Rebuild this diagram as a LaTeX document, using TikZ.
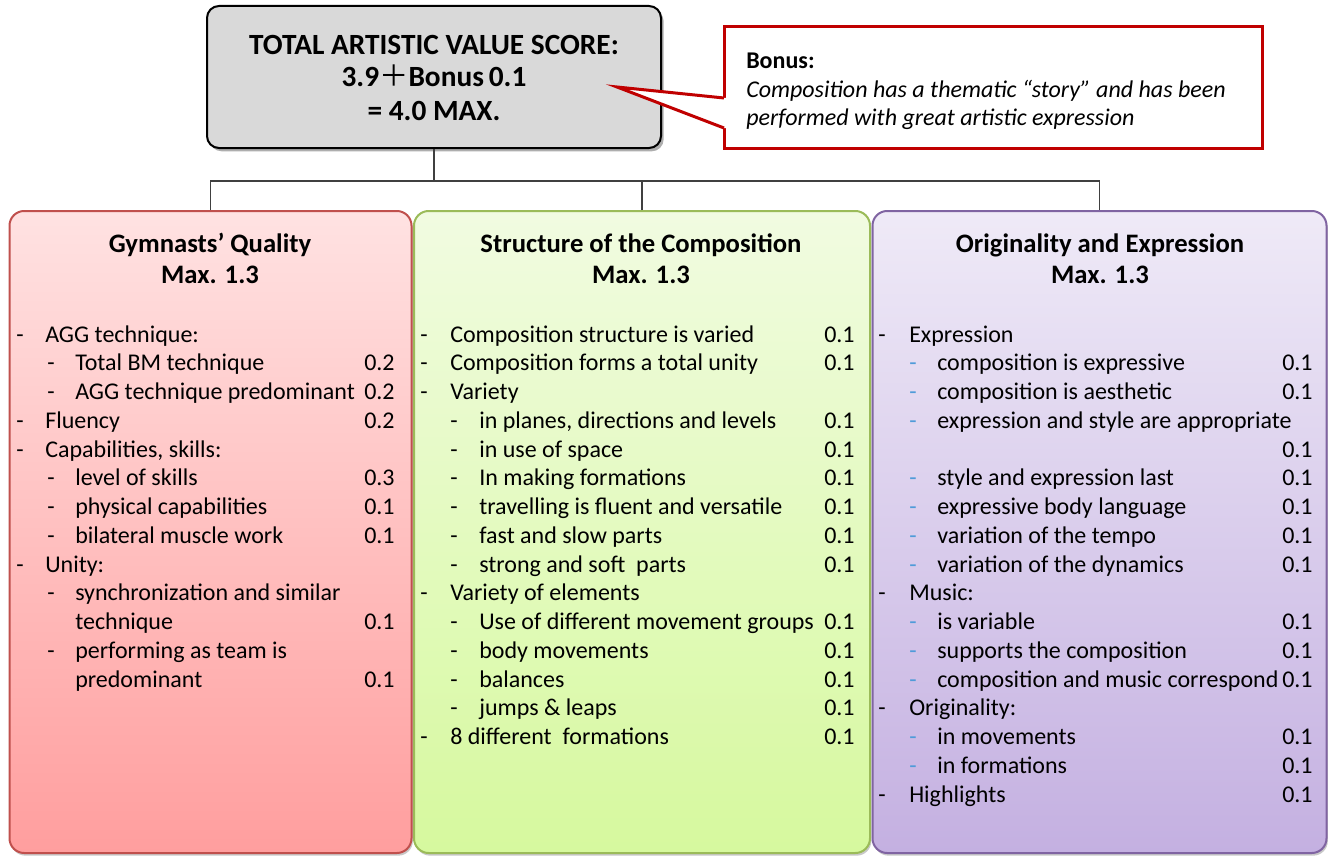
\documentclass[tikz,border=0pt]{standalone}
\usepackage{fontspec}
\setmainfont{Carlito}
\newfontfamily\cjkfont{Noto Sans CJK SC}
\usetikzlibrary{shadows}
\definecolor{redb}{HTML}{C0504D}
\definecolor{redtop}{HTML}{FFE2E2}
\definecolor{redbot}{HTML}{FF9E9E}
\definecolor{grnb}{HTML}{9BBB59}
\definecolor{grntop}{HTML}{F1FBE1}
\definecolor{grnbot}{HTML}{D6F99E}
\definecolor{purb}{HTML}{8064A2}
\definecolor{purtop}{HTML}{EFEAF7}
\definecolor{purbot}{HTML}{C4B0E1}
\definecolor{bonusred}{HTML}{C00000}
\definecolor{connc}{HTML}{404040}
\definecolor{topfill}{HTML}{D9D9D9}
\definecolor{bluedash}{HTML}{4F9BD9}
\newcommand\colitems[8]{%
  \foreach \lv/\tx/\vl [count=\i] in {#8}{%
    \pgfmathsetmacro\yy{342+(\i-1)*28.75}%
    \ifnum\lv=1
      \node[itm] (#1d\i) at (#2,\yy) {-};
      \node[itm] (#1t\i) at (#3,\yy) {\tx};
    \fi
    \ifnum\lv=2
      \node[itm,text=#7] (#1d\i) at (#4,\yy) {-};
      \node[itm] (#1t\i) at (#5,\yy) {\tx};
    \fi
    \ifnum\lv=0
      \ifx\tx\empty\else\node[itm] (#1t\i) at (#5,\yy) {\tx};\fi
    \fi
    \ifx\vl\empty\else\node[itm] (#1v\i) at (#6,\yy) {\vl};\fi
  }}
\begin{document}
\begin{tikzpicture}[x=0.75pt,y=-0.75pt,
  itm/.style={anchor=base west,inner sep=0pt,font=\fontsize{18}{21.6}\selectfont},
  hdr/.style={anchor=base,inner sep=0pt,font=\fontsize{20}{24}\selectfont\bfseries},
  toptxt/.style={anchor=base,inner sep=0pt,font=\fontsize{22}{26}\selectfont\bfseries},
  bontxt/.style={anchor=base west,inner sep=0pt},
  conn/.style={draw=connc,line width=1.1pt},
  panel/.style={rectangle,rounded corners=11pt,line width=1.5pt,inner sep=0pt,
    drop shadow={shadow xshift=1pt,shadow yshift=-2pt,opacity=0.3,fill=black!70}},
]
\useasboundingbox (0,0) rectangle (1328,856);
\fill[white] (0,0) rectangle (1328,856);

% panels
\node[panel,draw=redb,top color=redtop,bottom color=redbot,
  minimum width=301.5pt,minimum height=481.5pt] (red) at (210.5,532) {};
\node[panel,draw=grnb,top color=grntop,bottom color=grnbot,
  minimum width=342pt,minimum height=481.5pt] (grn) at (642,532) {};
\node[panel,draw=purb,top color=purtop,bottom color=purbot,
  minimum width=340.5pt,minimum height=481.5pt] (pur) at (1099.5,532) {};

% top box
\node[rectangle,rounded corners=9pt,draw=black,line width=1.5pt,fill=topfill,inner sep=0pt,
  minimum width=340.5pt,minimum height=106.5pt,
  drop shadow={shadow xshift=2pt,shadow yshift=-2.5pt,opacity=0.45,fill=black!70}] (top) at (434,77) {};
\node[toptxt] (top1) at (434,55) {TOTAL ARTISTIC VALUE SCORE:};
\node[toptxt] (top2) at (434,87) {3.9{\cjkfont\mdseries ＋}Bonus\,0.1};
\node[toptxt] (top3) at (434,120) {= 4.0 MAX.};

% bonus callout
\node[rectangle,draw=bonusred,line width=2.25pt,fill=white,inner sep=0pt,
  minimum width=403.5pt,minimum height=90.75pt] (bonus) at (993,87.5) {};
\coordinate (tip) at (617,87);
\fill[white] (tip) -- (724,98) -- (729,98) -- (729,128) -- (724,128) -- cycle;
\draw[bonusred,line width=2.25pt,line join=miter,miter limit=20] (724,98) -- (tip) -- (724,128);
\node[bontxt,font=\fontsize{18}{21}\selectfont\bfseries] (bon1) at (746,69) {Bonus:};
\node[bontxt,font=\fontsize{18}{21}\selectfont\itshape] (bon2) at (746,98) {Composition has a thematic “story” and has been};
\node[bontxt,font=\fontsize{18}{21}\selectfont\itshape] (bon3) at (746,126) {performed with great artistic expression};

% connectors
\coordinate (hub) at (434,181);
\draw[conn] (top.south) -- (hub);
\draw[conn] (red.north) |- (hub);
\draw[conn] (grn.north) |- (hub);
\draw[conn] (pur.north) |- (hub);

% headers
\node[hdr] (rh1) at (210,252) {Gymnasts’ Quality};
\node[hdr] (rh2) at (210,283) {Max. 1.3};
\node[hdr] (gh1) at (641,252) {Structure of the Composition};
\node[hdr] (gh2) at (641,283) {Max. 1.3};
\node[hdr] (ph1) at (1100,252) {Originality and Expression};
\node[hdr] (ph2) at (1100,283) {Max. 1.3};

% items
\colitems{r}{16}{45}{47}{75}{364}{black}{1/{AGG technique:}/{}, 2/{Total BM technique}/{0.2},
  2/{AGG technique predominant}/{0.2}, 1/{Fluency}/{0.2}, 1/{Capabilities, skills:}/{},
  2/{level of skills}/{0.3}, 2/{physical capabilities}/{0.1}, 2/{bilateral muscle work}/{0.1},
  1/{Unity:}/{}, 2/{synchronization and similar}/{}, 0/{technique}/{0.1},
  2/{performing as team is}/{}, 0/{predominant}/{0.1}}
\colitems{g}{420}{450}{450}{479}{824}{black}{1/{Composition structure is varied}/{0.1},
  1/{Composition forms a total unity}/{0.1}, 1/{Variety}/{},
  2/{in planes, directions and levels}/{0.1}, 2/{in use of space}/{0.1},
  2/{In making formations}/{0.1}, 2/{travelling is fluent and versatile}/{0.1},
  2/{fast and slow parts}/{0.1}, 2/{strong and soft\ \ parts}/{0.1},
  1/{Variety of elements}/{}, 2/{Use of different movement groups}/{0.1},
  2/{body movements}/{0.1}, 2/{balances}/{0.1}, 2/{jumps \& leaps}/{0.1},
  1/{8 different\ \ formations}/{0.1}}
\colitems{p}{878}{909}{909}{937}{1282}{bluedash}{1/{Expression}/{},
  2/{composition is expressive}/{0.1}, 2/{composition is aesthetic}/{0.1},
  2/{expression and style are appropriate}/{}, 0/{}/{0.1},
  2/{style and expression last}/{0.1}, 2/{expressive body language}/{0.1},
  2/{variation of the tempo}/{0.1}, 2/{variation of the dynamics}/{0.1},
  1/{Music:}/{}, 2/{is variable}/{0.1}, 2/{supports the composition}/{0.1},
  2/{composition and music correspond}/{0.1}, 1/{Originality:}/{},
  2/{in movements}/{0.1}, 2/{in formations}/{0.1}, 1/{Highlights}/{0.1}}
\end{tikzpicture}
\end{document}
